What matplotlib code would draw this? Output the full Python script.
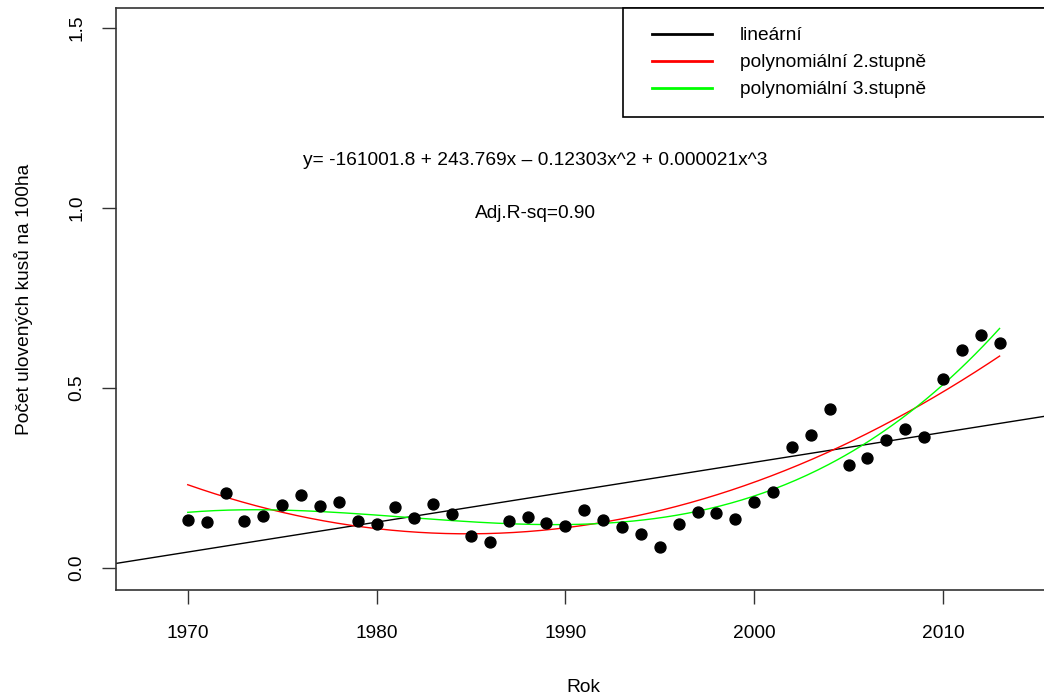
import numpy as np
import matplotlib.pyplot as plt
from matplotlib.patches import Rectangle

plt.rcParams['font.family'] = ['Liberation Sans', 'DejaVu Sans']

years = list(range(1970, 2014))
counts = [0.133, 0.128, 0.209, 0.132, 0.144, 0.174, 0.204, 0.171, 0.183, 0.130,
          0.121, 0.169, 0.138, 0.177, 0.151, 0.090, 0.071, 0.131, 0.142, 0.124,
          0.117, 0.162, 0.133, 0.114, 0.094, 0.059, 0.123, 0.156, 0.153, 0.136,
          0.183, 0.211, 0.337, 0.370, 0.442, 0.286, 0.306, 0.357, 0.387, 0.363,
          0.526, 0.607, 0.647, 0.626]

x_ticks = [1970, 1980, 1990, 2000, 2010]
y_ticks = [0.0, 0.5, 1.0, 1.5]
legend_labels = ["lineární", "polynomiální 2.stupně", "polynomiální 3.stupně"]
equation = "y= -161001.8 + 243.769x – 0.12303x^2 + 0.000021x^3"
r2_text = "Adj.R-sq=0.90"

x = np.array(years, dtype=float)
y = np.array(counts)
xc = x - 1990

# fits of degree 1, 2, 3 (centred years for stability)
lin = np.polyfit(xc, y, 1)
quad = np.polyfit(xc, y, 2)
cub = np.polyfit(xc, y, 3)

W, H = 1044, 697
fig = plt.figure(figsize=(W / 100, H / 100), dpi=100)
ax = fig.add_axes([116 / W, (H - 590) / H, (1050 - 116) / W, (590 - 8) / H])

fs = 13.8
ax.scatter(x, y, s=62, color='black', zorder=3)
xs = np.linspace(1970, 2013, 300)
ax.axline((1990, lin[1]), slope=lin[0], color='black', lw=1.0, label=legend_labels[0])
ax.plot(xs, np.polyval(quad, xs - 1990), color='#ff0000', lw=1.0, label=legend_labels[1])
ax.plot(xs, np.polyval(cub, xs - 1990), color='#00ff00', lw=1.0, label=legend_labels[2])

ax.set_xlim(1966.2, 1966.2 + (1050 - 116) / 18.88)
ax.set_ylim(-0.061, 1.556)
ax.set_xticks(x_ticks)
ax.set_yticks(y_ticks)
ax.set_yticklabels([f"{v:.1f}" for v in y_ticks], rotation=90, va='center')
ax.tick_params(length=10, width=1.0, labelsize=fs, color='#333333')
ax.tick_params(axis='x', pad=15)
ax.tick_params(axis='y', pad=12)
for s in ax.spines.values():
    s.set_color('#333333')
    s.set_linewidth(1.2)

ax.set_xlabel("Rok", fontsize=fs, labelpad=27)
ax.set_ylabel("Počet ulovených kusů na 100ha", fontsize=fs, labelpad=25.5)

ax.text(1988.4, 1.133, equation, fontsize=fs, ha='center', va='center')
ax.text(1988.4, 0.986, r2_text, fontsize=fs, ha='center', va='center')

# legend box drawn separately, legend itself without frame
ax.add_patch(Rectangle((623 / W, 1 - 117 / H), (1050 - 623) / W, 109 / H,
                       transform=fig.transFigure, facecolor='white', clip_on=False,
                       edgecolor='black', lw=1.2, zorder=5))
leg = ax.legend(loc='upper left', bbox_to_anchor=(652 / W, 1 - 27 / H),
                bbox_transform=fig.transFigure, borderaxespad=0, borderpad=0,
                frameon=False, fontsize=fs, handlelength=3.15,
                handletextpad=1.45, labelspacing=0.5)
leg.set_zorder(6)
for h in leg.get_lines():
    h.set_linewidth(2.0)

fig.savefig("out.png", dpi=100)
